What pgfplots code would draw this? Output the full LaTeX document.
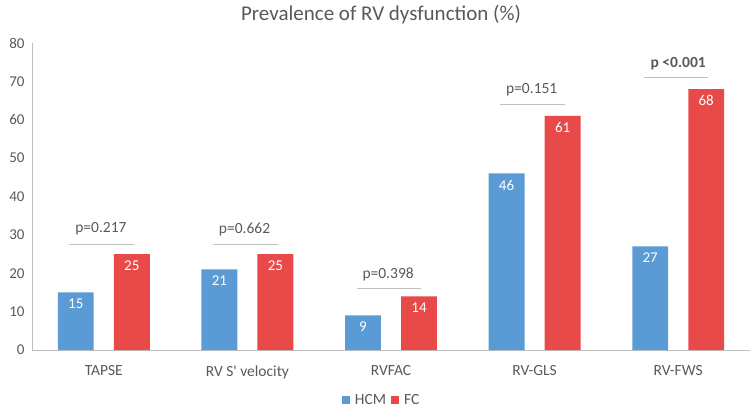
\documentclass[border=0pt]{standalone}
\usepackage{pgfplots}
\pgfplotsset{compat=1.18}
\usepackage{fontspec}
\setmainfont{Carlito}
\definecolor{hcm}{HTML}{5B9BD5}
\definecolor{fc}{HTML}{E84A4A}
\definecolor{txt}{HTML}{595959}
\definecolor{axl}{HTML}{BFBFBF}
\begin{document}
\begin{tikzpicture}
\useasboundingbox (0pt,0pt) rectangle (750pt,410pt);
\node[txt,font=\fontsize{21}{24}\selectfont] at (381pt,395pt) {Prevalence of RV dysfunction (\%)};
\begin{axis}[at={(32pt,60pt)}, anchor=south west, scale only axis, width=718pt, height=307pt,
 ymin=0, ymax=80, xmin=-0.5, xmax=4.5,
 axis x line*=bottom, axis y line*=left,
 axis line style={axl},
 ytick={0,10,...,80}, xtick={0,1,2,3,4},
 xticklabels={TAPSE, RV S\textquotesingle{} velocity, RVFAC, RV-GLS, RV-FWS},
 major tick length=0pt,
 tick label style={txt, font=\fontsize{15}{18}\selectfont},
 xticklabel style={yshift=-12pt, font=\fontsize{15.5}{18}\selectfont},
 /pgf/number format/assume math mode=true,
 yticklabel style={xshift=-4pt},
 ybar, bar width=0.25,
 nodes near coords,
 nodes near coords style={white, anchor=north, yshift=-3pt, font=\fontsize{15}{18}\selectfont},
 legend style={at={(0.487,-0.163)}, anchor=center, draw=none, legend columns=2,
   font=\fontsize{15.5}{18}\selectfont, text=txt, column sep=3pt},
 legend image code/.code={\fill[#1] (0pt,-4pt) rectangle (8pt,4pt);},
 clip=false,
]
\addplot[fill=hcm, draw=none, bar shift=-0.195] coordinates {(0,15) (1,21) (2,9) (3,46) (4,27)};
\addplot[fill=fc, draw=none, bar shift=0.195] coordinates {(0,25) (1,25) (2,14) (3,61) (4,68)};
\legend{HCM\hspace{10pt}, FC}
\draw[axl, line width=0.8pt] (axis cs:-0.24,27.6) -- (axis cs:0.21,27.6);
\node[txt, font=\fontsize{15.5}{18}\selectfont] at (axis cs:-0.02,31.5) {p=0.217};
\draw[axl, line width=0.8pt] (axis cs:0.76,27.6) -- (axis cs:1.21,27.6);
\node[txt, font=\fontsize{15.5}{18}\selectfont] at (axis cs:0.98,31.5) {p=0.662};
\draw[axl, line width=0.8pt] (axis cs:1.76,16.1) -- (axis cs:2.21,16.1);
\node[txt, font=\fontsize{15.5}{18}\selectfont] at (axis cs:1.98,19.8) {p=0.398};
\draw[axl, line width=0.8pt] (axis cs:2.76,64.0) -- (axis cs:3.21,64.0);
\node[txt, font=\fontsize{15.5}{18}\selectfont] at (axis cs:2.98,67.8) {p=0.151};
\draw[axl, line width=0.8pt] (axis cs:3.76,71.0) -- (axis cs:4.21,71.0);
\node[txt, font=\bfseries\fontsize{15.5}{18}\selectfont] at (axis cs:4.0,74.6) {p <0.001};
\end{axis}
\end{tikzpicture}
\end{document}
